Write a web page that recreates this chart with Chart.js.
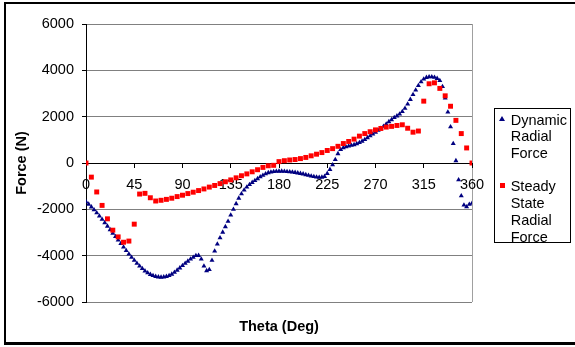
<!DOCTYPE html>
<html>
<head>
<meta charset="utf-8">
<script src="https://cdn.jsdelivr.net/npm/chart.js@4/dist/chart.umd.min.js"></script>
<style>
  html, body { margin: 0; padding: 0; background: #fff; }
  #wrap { position: relative; width: 575px; height: 347px; overflow: hidden; }
  #frame { position: absolute; left: 4px; top: 2px; width: 640px; height: 338px;
           border-left: 2px solid #000; border-top: 2px solid #000; border-bottom: 3px solid #000; }
  canvas { position: absolute; left: 0; top: 0; }
  #legend { position: absolute; left: 494px; top: 108px; width: 75px; height: 133px;
            border: 1px solid #000; background: #fff;
            font-family: 'Liberation Sans', Arial, sans-serif; font-size: 14.5px; color: #000;
            line-height: 16.7px; padding: 0; box-sizing: content-box; }
  #legend .txt { position: absolute; left: 15.7px; top: 2.6px; white-space: nowrap; }
  #legend .tri { position: absolute; left: 4px; top: 6.6px; width: 0; height: 0;
                 border-left: 3px solid transparent; border-right: 3px solid transparent;
                 border-bottom: 5px solid #000080; }
  #legend .sq { position: absolute; left: 4.5px; top: 73.6px; width: 5px; height: 5px; background: #ff0000; }
</style>
</head>
<body>
<div id="wrap">
  <div id="frame"></div>
  <canvas id="chart" width="575" height="347"></canvas>
  <div id="legend">
    <div class="tri"></div>
    <div class="sq"></div>
    <div class="txt">Dynamic<br>Radial<br>Force<br>&nbsp;<br>Steady<br>State<br>Radial<br>Force</div>
  </div>
</div>
<script>
// Crank angle (deg) for the dynamic radial force samples
const dynamicTheta = [
  0, 2.5, 5, 7.5, 10, 12.5, 15, 17.5, 20, 22.5,
  25, 27.5, 30, 32.5, 35, 37.5, 40, 42.5, 45, 47.5,
  50, 52.5, 55, 57.5, 60, 62.5, 65, 67.5, 70, 72.5,
  75, 77.5, 80, 82.5, 85, 87.5, 90, 92.5, 95, 97.5,
  100, 102.5, 105, 107.5, 110, 112.5, 115, 117.5, 120, 122.5,
  125, 127.5, 130, 132.5, 135, 137.5, 140, 142.5, 145, 147.5,
  150, 152.5, 155, 157.5, 160, 162.5, 165, 167.5, 170, 172.5,
  175, 177.5, 180, 182.5, 185, 187.5, 190, 192.5, 195, 197.5,
  200, 202.5, 205, 207.5, 210, 212.5, 215, 217.5, 220, 222.5,
  225, 227.5, 230, 232.5, 235, 237.5, 240, 242.5, 245, 247.5,
  250, 252.5, 255, 257.5, 260, 262.5, 265, 267.5, 270, 272.5,
  275, 277.5, 280, 282.5, 285, 287.5, 290, 292.5, 295, 297.5,
  300, 302.5, 305, 307.5, 310, 312.5, 315, 317.5, 320, 322.5,
  325, 327.5, 330, 332.5, 335, 337.5, 340, 342.5, 345, 347.5,
  350, 352.5, 355, 357.5, 360
];

// Dynamic radial force (N)
const dynamicForce = [
  -1670, -1780, -1900, -2020, -2150, -2290, -2430, -2580, -2730, -2880,
  -3030, -3180, -3330, -3480, -3630, -3780, -3930, -4070, -4200, -4330,
  -4450, -4560, -4660, -4740, -4810, -4860, -4900, -4920, -4930, -4920,
  -4900, -4860, -4800, -4720, -4630, -4530, -4430, -4330, -4240, -4150,
  -4070, -4000, -3990, -4150, -4450, -4650, -4600, -4200, -3800, -3500,
  -3230, -2990, -2750, -2520, -2250, -2000, -1760, -1520, -1330, -1170,
  -1040, -930, -840, -760, -680, -600, -530, -470, -420, -390,
  -370, -360, -355, -355, -360, -370, -380, -395, -410, -430,
  -450, -475, -505, -535, -565, -590, -610, -620, -615, -580,
  -450, -280, -80, 150, 400, 580, 660, 700, 730, 760,
  790, 830, 880, 940, 1010, 1090, 1170, 1250, 1330, 1410,
  1490, 1580, 1680, 1780, 1870, 1960, 2030, 2110, 2220, 2360,
  2540, 2740, 2950, 3150, 3340, 3500, 3620, 3690, 3720, 3720,
  3700, 3650, 3560, 3300, 2800, 2200, 1560, 840, 100, -725,
  -1420, -1815, -1890, -1785, -1740
];

// Crank angle (deg) for the steady state radial force samples
const steadyTheta = [
  0, 5, 10, 15, 20, 25, 30, 35, 40, 45,
  50, 55, 60, 65, 70, 75, 80, 85, 90, 95,
  100, 105, 110, 115, 120, 125, 130, 135, 140, 145,
  150, 155, 160, 165, 170, 175, 180, 185, 190, 195,
  200, 205, 210, 215, 220, 225, 230, 235, 240, 245,
  250, 255, 260, 265, 270, 275, 280, 285, 290, 295,
  300, 305, 310, 315, 320, 325, 330, 335, 340, 345,
  350, 355, 360
];

// Steady state radial force (N)
const steadyForce = [
  0, -610, -1250, -1830, -2410, -2900, -3190, -3420, -3370, -2640,
  -1340, -1310, -1500, -1640, -1610, -1570, -1520, -1450, -1390, -1320,
  -1260, -1190, -1120, -1040, -970, -890, -810, -730, -640, -550,
  -470, -380, -290, -190, -120, -100, 60, 100, 130, 150,
  190, 240, 310, 380, 450, 540, 620, 720, 840, 930,
  1030, 1160, 1270, 1350, 1430, 1490, 1550, 1580, 1620, 1650,
  1500, 1330, 1380, 2670, 3420, 3460, 3220, 2900, 2450, 1840,
  1270, 650, 0
];

const xTicks = [0, 45, 90, 135, 180, 225, 270, 315, 360];
const yTicks = [-6000, -4000, -2000, 0, 2000, 4000, 6000];

const seriesNames = ['Dynamic Radial Force', 'Steady State Radial Force'];

const FONT = "'Liberation Sans', Arial, sans-serif";
const toPoints = (xs, ys) => xs.map((x, i) => ({ x: x, y: ys[i] }));

new Chart(document.getElementById('chart'), {
  type: 'scatter',
  data: {
    datasets: [
      {
        label: seriesNames[1],
        data: toPoints(steadyTheta, steadyForce),
        pointStyle: 'rect',
        pointRadius: 3.5,
        backgroundColor: '#ff0000',
        borderWidth: 0,
        order: 0
      },
      {
        label: seriesNames[0],
        data: toPoints(dynamicTheta, dynamicForce),
        pointStyle: 'triangle',
        pointRadius: 2.9,
        backgroundColor: '#000080',
        borderWidth: 0,
        order: 1
      }
    ]
  },
  options: {
    responsive: false,
    animation: false,
    devicePixelRatio: 1,
    layout: { padding: { left: 0, top: 24, right: 103, bottom: 11.3 } },
    plugins: { legend: { display: false }, tooltip: { enabled: false } },
    scales: {
      x: {
        type: 'linear',
        position: { y: 0 },
        min: xTicks[0],
        max: xTicks[xTicks.length - 1],
        afterBuildTicks: (s) => { s.ticks = xTicks.map(v => ({ value: v })); },
        ticks: {
          color: '#000',
          font: { family: FONT, size: 14.5 },
          padding: 9,
          maxRotation: 0,
          autoSkip: false,
          callback: (v) => String(v)
        },
        grid: {
          drawOnChartArea: true,
          color: (c) => (c.tick && c.tick.value === 360 ? '#a0a0a0' : 'rgba(0,0,0,0)'),
          tickColor: '#000',
          tickLength: 4
        },
        border: { color: '#000', width: 1 }
      },
      x2: {
        type: 'linear',
        position: 'bottom',
        ticks: { display: false },
        grid: { display: false, drawTicks: false },
        border: { display: false },
        title: {
          display: true,
          text: 'Theta (Deg)',
          color: '#000',
          font: { family: FONT, size: 14.5, weight: 'bold' },
          padding: { top: 16.3, bottom: 0 }
        }
      },
      y: {
        type: 'linear',
        position: 'left',
        min: yTicks[0],
        max: yTicks[yTicks.length - 1],
        afterBuildTicks: (s) => { s.ticks = yTicks.map(v => ({ value: v })); },
        afterFit: (s) => { s.width = 86; },
        ticks: {
          color: '#000',
          font: { family: FONT, size: 14.5 },
          padding: 8,
          callback: (v) => String(v)
        },
        grid: { color: '#808080', tickColor: '#000', tickLength: 4 },
        border: { color: '#000', width: 1 },
        title: {
          display: true,
          text: 'Force (N)',
          color: '#000',
          font: { family: FONT, size: 14.5, weight: 'bold' },
          padding: { top: 13.3, bottom: 0 }
        }
      }
    }
  }
});
</script>
</body>
</html>
